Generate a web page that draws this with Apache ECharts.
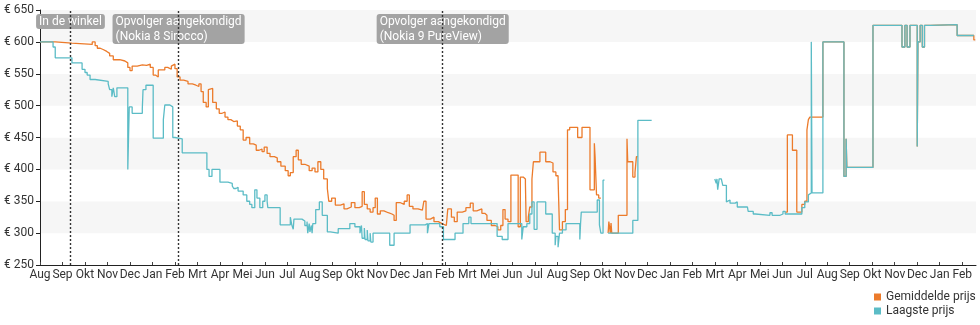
<!DOCTYPE html>
<html>
<head>
<meta charset="utf-8">
<script src="https://cdn.jsdelivr.net/npm/echarts@6/dist/echarts.min.js"></script>
<style>
  html, body { margin: 0; padding: 0; background: #ffffff; }
  #chart { width: 980px; height: 325px; }
</style>
</head>
<body>
<div id="chart"></div>
<script>
// Price history of the Nokia 8 (Dutch price tracker)

const monthNames = ['Jan', 'Feb', 'Mrt', 'Apr', 'Mei', 'Jun', 'Jul', 'Aug', 'Sep', 'Okt', 'Nov', 'Dec'];
const axisStart = '2017-08-19';   // first tick of the time axis
const axisSpanDays = 1290;        // axis runs until 2021-02-28
const tickEveryDays = 31;
const priceTicks = [250, 300, 350, 400, 450, 500, 550, 600, 650];

// Average price: [date, euro]; null marks a gap in the record
const avgPrice = [
  ['2017-08-19', 600], ['2017-09-09', 598], ['2017-10-02', 596], ['2017-10-30', 600],
  ['2017-11-03', 594], ['2017-11-06', 590], ['2017-11-10', 588], ['2017-11-14', 585],
  ['2017-11-19', 582], ['2017-11-23', 578], ['2017-11-28', 572], ['2017-12-07', 570],
  ['2017-12-14', 567], ['2017-12-18', 560], ['2017-12-21', 555], ['2017-12-24', 562],
  ['2017-12-31', 564], ['2018-01-07', 563], ['2018-01-13', 565], ['2018-01-18', 560],
  ['2018-01-22', 548], ['2018-01-25', 545], ['2018-01-29', 556], ['2018-02-07', 560],
  ['2018-02-11', 557], ['2018-02-16', 562], ['2018-02-18', 565], ['2018-02-21', 558],
  ['2018-02-24', 545], ['2018-02-28', 540], ['2018-03-05', 538], ['2018-03-11', 534],
  ['2018-03-17', 532], ['2018-03-22', 530], ['2018-03-26', 534], ['2018-03-29', 522],
  ['2018-04-01', 505], ['2018-04-05', 498], ['2018-04-08', 525], ['2018-04-10', 527],
  ['2018-04-14', 505], ['2018-04-19', 495], ['2018-04-23', 488], ['2018-04-27', 490],
  ['2018-05-01', 482], ['2018-05-05', 478], ['2018-05-09', 475], ['2018-05-13', 476],
  ['2018-05-18', 468], ['2018-05-22', 462], ['2018-05-26', 446], ['2018-05-30', 450],
  ['2018-06-04', 440], ['2018-06-09', 438], ['2018-06-13', 430], ['2018-06-17', 432],
  ['2018-06-21', 428], ['2018-06-24', 435], ['2018-06-28', 425], ['2018-07-02', 420],
  ['2018-07-08', 418], ['2018-07-12', 412], ['2018-07-17', 405], ['2018-07-23', 398],
  ['2018-07-27', 390], ['2018-07-30', 395], ['2018-08-03', 420], ['2018-08-07', 430],
  ['2018-08-10', 415], ['2018-08-14', 408], ['2018-08-19', 405], ['2018-08-25', 398],
  ['2018-08-29', 402], ['2018-09-02', 396], ['2018-09-06', 412], ['2018-09-10', 400],
  ['2018-09-14', 385], ['2018-09-19', 370], ['2018-09-21', 350], ['2018-09-25', 355],
  ['2018-09-30', 344], ['2018-10-07', 346], ['2018-10-12', 338], ['2018-10-16', 341],
  ['2018-10-22', 348], ['2018-10-27', 340], ['2018-11-02', 342], ['2018-11-06', 365],
  ['2018-11-09', 345], ['2018-11-13', 338], ['2018-11-17', 333], ['2018-11-21', 340],
  ['2018-11-24', 355], ['2018-11-27', 330], ['2018-12-01', 335], ['2018-12-06', 332],
  ['2018-12-12', 330], ['2018-12-17', 328], ['2018-12-20', 320], ['2018-12-23', 348],
  ['2018-12-28', 345], ['2019-01-03', 350], ['2019-01-07', 360], ['2019-01-10', 342],
  ['2019-01-15', 338], ['2019-01-22', 336], ['2019-01-28', 333], ['2019-01-30', 350],
  ['2019-02-02', 322], ['2019-02-08', 325], ['2019-02-13', 318], ['2019-02-19', 315],
  ['2019-02-24', 312], ['2019-03-02', 310], ['2019-03-04', 338], ['2019-03-09', 325],
  ['2019-03-13', 318], ['2019-03-17', 333], ['2019-03-24', 335], ['2019-03-29', 340],
  ['2019-04-04', 347], ['2019-04-08', 335], ['2019-04-13', 338], ['2019-04-20', 331],
  ['2019-04-24', 328], ['2019-04-27', 320], ['2019-05-03', 312], ['2019-05-08', 310],
  ['2019-05-12', 305], ['2019-05-16', 312], ['2019-05-19', 337], ['2019-05-22', 322],
  ['2019-05-26', 318], ['2019-05-30', 391], ['2019-06-09', 310], ['2019-06-12', 388],
  ['2019-06-16', 385], ['2019-06-19', 378], ['2019-06-20', 318], ['2019-06-23', 325],
  ['2019-06-25', 341], ['2019-06-28', 385], ['2019-06-30', 412], ['2019-07-09', 427],
  ['2019-07-17', 412], ['2019-07-23', 410], ['2019-07-27', 396], ['2019-07-31', 390],
  ['2019-08-03', 386], ['2019-08-05', 305], ['2019-08-09', 318], ['2019-08-13', 337],
  ['2019-08-16', 462], ['2019-08-19', 466], ['2019-08-30', 450], ['2019-09-05', 466],
  ['2019-09-16', 368], ['2019-09-22', 441], ['2019-09-23', 420], ['2019-09-25', 360],
  ['2019-09-28', 355], ['2019-09-30', 355], ['2019-10-01', null],
  ['2019-10-11', 300], ['2019-10-12', 318], ['2019-10-14', 300], ['2019-10-15', 316],
  ['2019-10-16', 300], ['2019-10-25', 328], ['2019-11-06', 448], ['2019-11-07', 412],
  ['2019-11-14', 388], ['2019-11-17', 395], ['2019-11-19', 420], ['2019-11-20', 420],
  ['2019-11-21', null],
  ['2020-06-11', 333], ['2020-06-14', 454], ['2020-06-21', 430], ['2020-06-27', 333],
  ['2020-07-04', 345], ['2020-07-08', 350], ['2020-07-11', 462], ['2020-07-13', 478],
  ['2020-07-15', 482], ['2020-08-02', 600], ['2020-08-31', 389], ['2020-09-03', 448],
  ['2020-09-04', 403], ['2020-10-10', 626], ['2020-11-19', 592], ['2020-11-23', 626],
  ['2020-11-26', 592], ['2020-11-30', 626], ['2020-12-10', 436], ['2020-12-11', 600],
  ['2020-12-14', 626], ['2020-12-17', 592], ['2020-12-20', 626], ['2020-12-28', 627],
  ['2021-02-03', 610], ['2021-02-26', 603], ['2021-02-28', 603]
];

// Lowest price: [date, euro]; null marks a gap in the record
const lowPrice = [
  ['2017-08-19', 600], ['2017-09-06', 592], ['2017-09-09', 575], ['2017-10-02', 567],
  ['2017-10-16', 557], ['2017-10-20', 552], ['2017-10-23', 548], ['2017-10-27', 541],
  ['2017-11-03', 538], ['2017-11-21', 534], ['2017-11-23', 525], ['2017-11-26', 514],
  ['2017-11-28', 528], ['2017-11-30', 514], ['2017-12-03', 528], ['2017-12-18', 400],
  ['2017-12-20', 498], ['2017-12-24', 488], ['2018-01-07', 495], ['2018-01-08', 525],
  ['2018-01-12', 532], ['2018-01-22', 449], ['2018-02-05', 478], ['2018-02-07', 501],
  ['2018-02-14', 498], ['2018-02-18', 450], ['2018-02-21', 448], ['2018-03-03', 426],
  ['2018-04-06', 400], ['2018-04-09', 389], ['2018-04-13', 400], ['2018-04-24', 380],
  ['2018-05-05', 378], ['2018-05-11', 374], ['2018-05-13', 370], ['2018-05-16', 372],
  ['2018-05-19', 366], ['2018-05-26', 360], ['2018-05-31', 350], ['2018-06-04', 345],
  ['2018-06-07', 340], ['2018-06-11', 368], ['2018-06-14', 355], ['2018-06-18', 340],
  ['2018-06-22', 350], ['2018-06-25', 360], ['2018-06-28', 350], ['2018-06-29', 340],
  ['2018-07-16', 313], ['2018-07-30', 325], ['2018-08-01', 313], ['2018-08-03', 306],
  ['2018-08-04', 322], ['2018-08-15', 319], ['2018-08-19', 312], ['2018-08-22', 318],
  ['2018-08-23', 300], ['2018-08-25', 315], ['2018-08-26', 302], ['2018-08-28', 312],
  ['2018-08-29', 300], ['2018-08-30', 315], ['2018-09-03', 337], ['2018-09-08', 349],
  ['2018-09-12', 328], ['2018-09-19', 302], ['2018-09-23', 300], ['2018-10-04', 307],
  ['2018-10-20', 315], ['2018-10-27', 310], ['2018-11-03', 300], ['2018-11-05', 312],
  ['2018-11-06', 292], ['2018-11-09', 308], ['2018-11-10', 290], ['2018-11-13', 305],
  ['2018-11-14', 288], ['2018-11-17', 300], ['2018-11-18', 286], ['2018-11-21', 300],
  ['2018-12-14', 281], ['2018-12-20', 300], ['2019-01-11', 313], ['2019-02-01', 315],
  ['2019-02-04', 300], ['2019-02-06', 315], ['2019-02-21', 310], ['2019-02-26', 290],
  ['2019-03-14', 300], ['2019-03-25', 315], ['2019-04-02', 325], ['2019-04-05', 315],
  ['2019-05-11', 295], ['2019-05-18', 290], ['2019-05-26', 315], ['2019-06-14', 290],
  ['2019-06-16', 310], ['2019-06-21', 315], ['2019-06-25', 330], ['2019-06-28', 349],
  ['2019-07-01', 306], ['2019-07-05', 349], ['2019-07-17', 330], ['2019-07-26', 300],
  ['2019-07-30', 281], ['2019-07-31', 295], ['2019-08-03', 278], ['2019-08-05', 300],
  ['2019-08-09', 305], ['2019-08-14', 315], ['2019-09-02', 290], ['2019-09-03', 315],
  ['2019-09-04', 333], ['2019-09-26', 352], ['2019-09-29', 313], ['2019-10-01', 300],
  ['2019-10-04', 383], ['2019-10-05', 383], ['2019-10-06', null],
  ['2019-10-11', 300], ['2019-11-14', 320], ['2019-11-21', 477], ['2019-12-09', 477],
  ['2019-12-10', null],
  ['2020-03-06', 385], ['2020-03-08', 378], ['2020-03-09', 385], ['2020-03-10', 368],
  ['2020-03-12', 385], ['2020-03-15', 383], ['2020-03-17', 375], ['2020-03-22', 349],
  ['2020-03-24', 352], ['2020-03-27', 347], ['2020-04-03', 349], ['2020-04-06', 341],
  ['2020-04-20', 340], ['2020-04-21', 334], ['2020-04-28', 330], ['2020-05-01', 328],
  ['2020-05-21', 332], ['2020-05-24', 328], ['2020-06-04', 330], ['2020-06-08', 334],
  ['2020-06-11', 330], ['2020-07-04', 340], ['2020-07-08', 349], ['2020-07-13', 360],
  ['2020-07-15', 363], ['2020-07-17', 600], ['2020-07-18', 363], ['2020-08-02', 600],
  ['2020-08-31', 389], ['2020-09-03', 448], ['2020-09-04', 403], ['2020-10-10', 626],
  ['2020-11-19', 592], ['2020-11-23', 626], ['2020-11-26', 592], ['2020-11-30', 626],
  ['2020-12-10', 436], ['2020-12-11', 600], ['2020-12-14', 626], ['2020-12-17', 592],
  ['2020-12-20', 626], ['2020-12-28', 627], ['2021-02-03', 610], ['2021-02-26', 610]
];

// Milestones drawn as dotted vertical lines
const eventDates = ['2017-09-30', '2018-02-26', '2019-02-25'];
const eventLabels = ['In de winkel', 'Opvolger aangekondigd\n(Nokia 8 Sirocco)', 'Opvolger aangekondigd\n(Nokia 9 PureView)'];

const seriesNames = ['Gemiddelde prijs', 'Laagste prijs'];
const seriesColors = ['#ec7b2b', '#5bbcc6'];

const DAY = 86400000;
const parseDay = s => { const p = s.split('-').map(Number); return Date.UTC(p[0], p[1] - 1, p[2]); };
const startMs = parseDay(axisStart);
const dayOf = s => Math.round((parseDay(s) - startMs) / DAY);
const toPoints = rows => rows.map(r => [dayOf(r[0]), r[1] === null ? '-' : r[1]]);

const font = 'Roboto, "Noto Sans", sans-serif';
const labelFontSize = 12;
const labelPadX = 3;

// Event boxes are centred on their line while the text inside stays left-aligned,
// so the box is shifted left by half of its measured width.
const measureCtx = document.createElement('canvas').getContext('2d');
measureCtx.font = labelFontSize + 'px ' + font;
const boxWidth = text => Math.max(...text.split('\n').map(l => measureCtx.measureText(l).width)) + 2 * labelPadX;

const chart = echarts.init(document.getElementById('chart'), null, { renderer: 'canvas' });

chart.setOption({
  animation: false,
  backgroundColor: '#ffffff',
  textStyle: { fontFamily: font },
  grid: { left: 40, right: 4, top: 10, bottom: 60, containLabel: false },
  legend: {
    data: seriesNames,
    orient: 'vertical',
    left: 874,
    top: 290,
    icon: 'rect',
    itemWidth: 7,
    itemHeight: 7,
    itemGap: 0,
    padding: 0,
    textStyle: { fontFamily: font, fontSize: 12, color: '#333', lineHeight: 14 }
  },
  xAxis: {
    type: 'value',
    min: 0,
    max: axisSpanDays,
    interval: tickEveryDays,
    axisLine: { show: true, lineStyle: { color: '#222', width: 1 } },
    axisTick: { show: true, inside: true, length: 3, lineStyle: { color: '#444' } },
    splitLine: { show: false },
    axisLabel: {
      showMaxLabel: false,
      margin: 4,
      fontSize: 12,
      color: '#333',
      fontFamily: font,
      formatter: v => monthNames[new Date(startMs + v * DAY).getUTCMonth()]
    }
  },
  yAxis: {
    type: 'value',
    min: priceTicks[0],
    max: priceTicks[priceTicks.length - 1],
    interval: priceTicks[1] - priceTicks[0],
    axisLine: { show: true, lineStyle: { color: '#222', width: 1 } },
    axisTick: { show: true, length: 4, lineStyle: { color: '#222' } },
    splitLine: { show: false },
    splitArea: { show: true, areaStyle: { color: ['#ffffff', '#f6f6f6'] } },
    axisLabel: {
      margin: 6,
      fontSize: 12,
      color: '#333',
      fontFamily: font,
      formatter: v => '€ ' + v
    }
  },
  series: [
    {
      name: seriesNames[0],
      type: 'line',
      step: 'end',
      showSymbol: false,
      symbol: 'none',
      connectNulls: false,
      color: seriesColors[0],
      lineStyle: { width: 1.3, color: seriesColors[0] },
      data: toPoints(avgPrice),
      markLine: {
        silent: true,
        symbol: ['none', 'none'],
        z: 6,
        label: { show: false },
        lineStyle: { type: [2, 2], color: '#333', width: 1.4 },
        data: eventDates.map(d => ({ xAxis: dayOf(d) }))
      },
      markPoint: {
        silent: true,
        symbol: 'rect',
        symbolSize: 0,
        z: 5,
        label: {
          show: true,
          position: 'bottom',
          distance: 4,
          align: 'left',
          formatter: p => p.name,
          color: '#ffffff',
          fontFamily: font,
          fontSize: labelFontSize,
          lineHeight: 15,
          backgroundColor: '#a3a3a3',
          borderRadius: 3,
          padding: [0, labelPadX, 0, labelPadX]
        },
        data: eventDates.map((d, i) => ({
          name: eventLabels[i],
          coord: [dayOf(d), priceTicks[priceTicks.length - 1]],
          label: { offset: [-boxWidth(eventLabels[i]) / 2, 0] }
        }))
      }
    },
    {
      name: seriesNames[1],
      type: 'line',
      step: 'end',
      showSymbol: false,
      symbol: 'none',
      connectNulls: false,
      color: seriesColors[1],
      lineStyle: { width: 1.3, color: seriesColors[1] },
      data: toPoints(lowPrice)
    }
  ]
});
</script>
</body>
</html>
